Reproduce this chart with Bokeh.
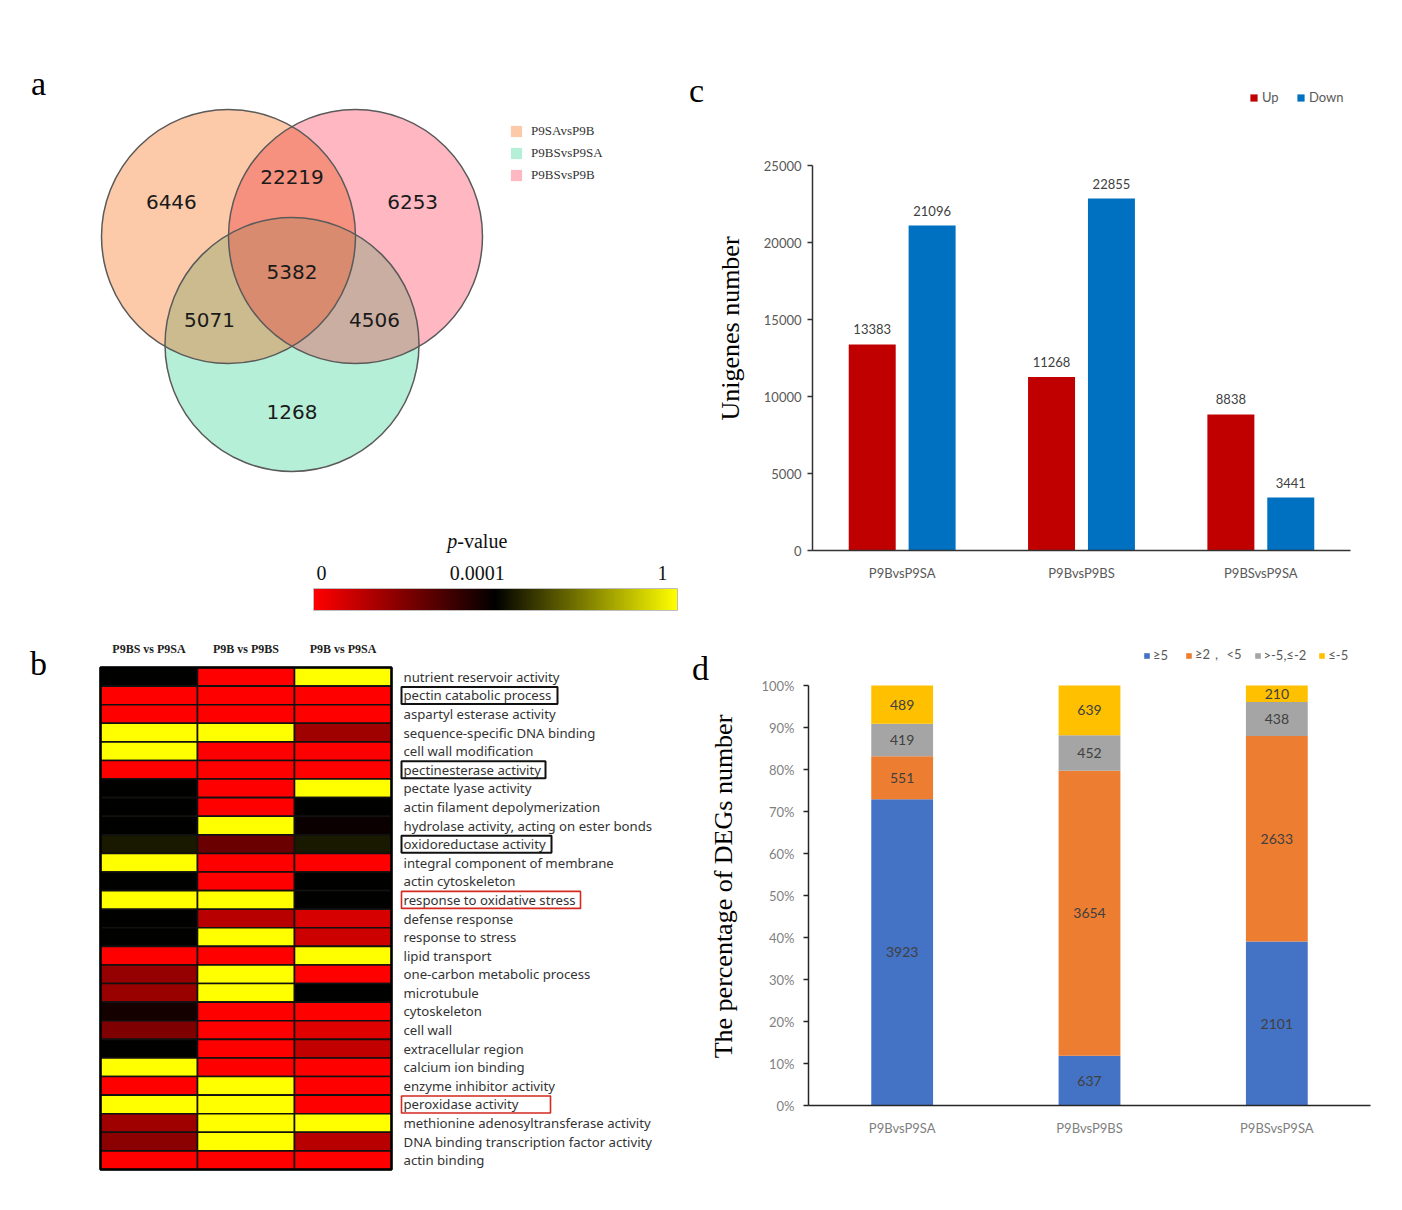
import numpy as np
from math import pi
from bokeh.plotting import figure
from bokeh.models import (Range1d, FactorRange, Label, Legend, LegendItem,
                          LinearColorMapper, ColumnDataSource, NumeralTickFormatter,
                          FixedTicker)
from bokeh.layouts import row, column
from bokeh.transform import dodge, transform
from bokeh.core.properties import value
from bokeh.embed import file_html
from bokeh.resources import INLINE

# ======================= DATA =======================
# (a) Venn diagram: membership (P9SAvsP9B, P9BSvsP9SA, P9BSvsP9B) -> count
venn_set_names = ["P9SAvsP9B", "P9BSvsP9SA", "P9BSvsP9B"]
venn_members = [(1, 0, 0), (0, 0, 1), (0, 1, 0), (1, 0, 1), (1, 1, 0), (0, 1, 1), (1, 1, 1)]
venn_counts = [6446, 6253, 1268, 22219, 5071, 4506, 5382]

# (b) GO heatmap; values are positions on the colour scale (0 = p 0, 0.5 = p 0.0001, 1 = p 1)
go_terms = [
    "nutrient reservoir activity",
    "pectin catabolic process",
    "aspartyl esterase activity",
    "sequence-specific DNA binding",
    "cell wall modification",
    "pectinesterase activity",
    "pectate lyase activity",
    "actin filament depolymerization",
    "hydrolase activity, acting on ester bonds",
    "oxidoreductase activity",
    "integral component of membrane",
    "actin cytoskeleton",
    "response to oxidative stress",
    "defense response",
    "response to stress",
    "lipid transport",
    "one-carbon metabolic process",
    "microtubule",
    "cytoskeleton",
    "cell wall",
    "extracellular region",
    "calcium ion binding",
    "enzyme inhibitor activity",
    "peroxidase activity",
    "methionine adenosyltransferase activity",
    "DNA binding transcription factor activity",
    "actin binding",
]
hm_columns = ["P9BS vs P9SA", "P9B vs P9BS", "P9B vs P9SA"]
hm_p9bs_p9sa = [0.50, 0, 0, 1, 1, 0, 0.50, 0.50, 0.50, 0.55, 1, 0.50, 1, 0.50, 0.50, 0,
                0.21, 0.20, 0.46, 0.25, 0.50, 1, 0, 1, 0.19, 0.23, 0]
hm_p9b_p9bs = [0, 0, 0, 1, 0, 0, 0, 0, 1, 0.29, 0, 0, 1, 0.14, 1, 0,
               1, 1, 0, 0, 0, 0, 1, 1, 1, 1, 0]
hm_p9b_p9sa = [1, 0, 0, 0.19, 0, 0, 1, 0.50, 0.48, 0.55, 0, 0.50, 0.50, 0.08, 0.10, 1,
               0, 0.50, 0, 0.06, 0.12, 0, 0, 0, 1, 0.14, 0]
hm_boxed_terms = ["pectin catabolic process", "pectinesterase activity", "oxidoreductase activity",
                  "response to oxidative stress", "peroxidase activity"]
cbar_tick_labels = ["0", "0.0001", "1"]
cbar_tick_pos = [0.0, 0.45, 1.0]

# (c) DEG counts
c_groups = ["P9BvsP9SA", "P9BvsP9BS", "P9BSvsP9SA"]
c_up = [13383, 11268, 8838]
c_down = [21096, 22855, 3441]
c_yticks = [0, 5000, 10000, 15000, 20000, 25000]

# (d) DEG fold-change classes
d_groups = ["P9BvsP9SA", "P9BvsP9BS", "P9BSvsP9SA"]
d_classes = ["\u22655", "\u22652\uff0c <5", ">-5,\u2264-2", "\u2264-5"]
d_ge5 = [3923, 637, 2101]
d_2to5 = [551, 3654, 2633]
d_m5to_m2 = [419, 452, 438]
d_le_m5 = [489, 639, 210]

# ======================= STYLE / LAYOUT =======================
SERIF = "Liberation Serif"
SANS = "Lato"
venn_region_color = {(1, 0, 0): "#fccaa8", (0, 1, 0): "#b6efd7", (0, 0, 1): "#ffb8c2",
                     (1, 0, 1): "#f7917f", (1, 1, 0): "#cbbb8f", (0, 1, 1): "#cbaea2",
                     (1, 1, 1): "#d98b70"}
box_colors = ["#111111", "#111111", "#111111", "#d42a20", "#d42a20"]
box_widths_px = [156, 144, 150, 179, 149]
c_colors = ["#c00000", "#0070c0"]
d_colors = ["#4472c4", "#ed7d31", "#a5a5a5", "#ffc000"]

W_L = 688                 # left column width
W_S, W_R = 70, 640        # right column: strip with letter/axis title + chart
H_A, H_CB, H_B = 523, 100, 575
H_C, H_D = 623, 575


def rbk_palette(n=256):
    cols = []
    for i in range(n):
        t = i / (n - 1)
        if t <= 0.5:
            r = int(round(255 * (1 - 2 * t))); g = 0
        else:
            r = g = int(round(255 * (2 * t - 1)))
        cols.append("#%02x%02x%02x" % (r, g, 0))
    return cols


mapper = LinearColorMapper(palette=rbk_palette(), low=0, high=1)


def blank_fig(w, h, xr, yr, top=0, bottom=0):
    p = figure(width=w, height=h, x_range=xr, y_range=yr, output_backend="svg",
               toolbar_location=None, x_axis_location=None, y_axis_location=None,
               min_border_left=0, min_border_right=0, min_border_top=top, min_border_bottom=bottom)
    p.outline_line_color = None
    p.grid.visible = False
    return p


def panel_letter(p, txt, x, y):
    p.text(x=[x], y=[y], text=[txt], text_font=value(SERIF), text_font_size="34px",
           text_color="black", text_align="center", text_baseline="middle")


# ======================= (a) VENN =======================
VS = 127.0                 # px per unit radius
ox, oy = 291.5, 236.0      # origin position in figure px (from top-left)
pa = blank_fig(W_L, H_A, Range1d(-ox / VS, (W_L - ox) / VS), Range1d(-(H_A - oy) / VS, oy / VS))
R = 1.0
venn_centers = [(-0.5, 0.0), (0.0, -0.85), (0.5, 0.0)]   # orange, green, pink


def inter_poly(idx):
    th = np.linspace(0, 2 * np.pi, 1441)[:-1]
    pts = []
    for i in idx:
        cx, cy = venn_centers[i]
        px, py = cx + R * np.cos(th), cy + R * np.sin(th)
        ok = np.ones(px.shape, bool)
        for j in idx:
            if j != i:
                ok &= (px - venn_centers[j][0]) ** 2 + (py - venn_centers[j][1]) ** 2 <= R * R + 1e-9
        pts.append(np.c_[px[ok], py[ok]])
    P = np.vstack(pts)
    c = P.mean(axis=0)
    order = np.argsort(np.arctan2(P[:, 1] - c[1], P[:, 0] - c[0]))
    return list(P[order, 0]), list(P[order, 1])


circle_renderers = []
for combo in [[0], [1], [2], [0, 2], [0, 1], [1, 2], [0, 1, 2]]:
    mem = tuple(1 if k in combo else 0 for k in range(3))
    xs, ys = inter_poly(combo)
    r = pa.patch(xs, ys, fill_color=venn_region_color[mem], line_color=None)
    if len(combo) == 1:
        circle_renderers.append(r)
pa.circle(x=[c[0] for c in venn_centers], y=[c[1] for c in venn_centers], radius=R,
          fill_color=None, line_color="#5a5a5a", line_width=1.5)

# label positions: pole of inaccessibility of every region
gx, gy = np.meshgrid(np.linspace(-1.6, 1.6, 641), np.linspace(-1.95, 1.05, 601))
dists = [np.hypot(gx - cx, gy - cy) for cx, cy in venn_centers]
lab_x, lab_y = [], []
for mem in venn_members:
    margin = np.full(gx.shape, np.inf)
    for k in range(3):
        margin = np.minimum(margin, (R - dists[k]) if mem[k] else (dists[k] - R))
    i = np.argmax(margin)
    lab_x.append(float(gx.flat[i])); lab_y.append(float(gy.flat[i]))
pa.text(x=lab_x, y=lab_y, text=[str(v) for v in venn_counts], text_font=value("DejaVu Sans"),
        text_font_size="20px", text_color="#1a1a1a", text_align="center", text_baseline="middle")

leg_a = Legend(items=[LegendItem(label=n, renderers=[r]) for n, r in zip(venn_set_names, circle_renderers)],
               location=(509, 340), glyph_width=14, glyph_height=14, label_height=14,
               label_standoff=8, spacing=6, padding=0, margin=0, border_line_color=None,
               background_fill_alpha=0, label_text_font=SERIF, label_text_font_size="13px",
               label_text_color="#333333")
pa.add_layout(leg_a)
pa.add_layout(Label(x=38, y=H_A - 83, x_units="screen", y_units="screen", text="a",
                    text_font=SERIF, text_font_size="34px", text_color="black",
                    text_align="center", text_baseline="middle"))

# ======================= colour bar =======================
CB_L, CB_T, CB_W, CB_H = 313, 65, 364.0, 22.0
cb_bottom = -(H_CB - CB_T - CB_H) / CB_H
pcb = blank_fig(W_L, H_CB, Range1d(-CB_L / CB_W, (W_L - CB_L) / CB_W),
                Range1d(cb_bottom, cb_bottom + H_CB / CB_H))
pcb.image(image=[np.linspace(0, 1, 256).reshape(1, -1)], x=0, y=0, dw=1, dh=1, color_mapper=mapper)
pcb.quad(left=0, right=1, bottom=0, top=1, fill_color=None, line_color="#bdbdbd", line_width=1)
for lab, pos, al, xo in zip(cbar_tick_labels, cbar_tick_pos, ["left", "center", "right"], [3, 0, -10]):
    pcb.text(x=[pos], y=[1], text=[lab], x_offset=xo, y_offset=-9, text_font=value(SERIF),
             text_font_size="20px", text_color="#111111", text_align=al, text_baseline="bottom")
pcb.text(x=[cbar_tick_pos[1]], y=[1], text=["p"], x_offset=-20, y_offset=-48, text_font=value(SERIF),
         text_font_style="italic", text_font_size="20px", text_color="#111111",
         text_align="right", text_baseline="alphabetic")
pcb.text(x=[cbar_tick_pos[1]], y=[1], text=["-value"], x_offset=-20, y_offset=-48, text_font=value(SERIF),
         text_font_size="20px", text_color="#111111", text_align="left", text_baseline="alphabetic")

# ======================= (b) HEATMAP =======================
COL_PX = 97.0
ROW_PX = 502.0 / 27
HM_LEFT, HM_TOP = 100, 44
ncol, nrow = len(hm_columns), len(go_terms)
y_top = -0.5 - HM_TOP / ROW_PX
pb = blank_fig(W_L, H_B, Range1d(-0.5 - HM_LEFT / COL_PX, -0.5 + (W_L - HM_LEFT) / COL_PX),
               Range1d(y_top + H_B / ROW_PX, y_top))
hx, hy, ht = [], [], []
for ci, vals in enumerate([hm_p9bs_p9sa, hm_p9b_p9bs, hm_p9b_p9sa]):
    for ri, v in enumerate(vals):
        hx.append(ci); hy.append(ri); ht.append(v)
pb.rect(x="x", y="y", width=1, height=1, source=ColumnDataSource(dict(x=hx, y=hy, t=ht)),
        fill_color=transform("t", mapper), line_color="#111111", line_width=1.6)
pb.rect(x=[(ncol - 1) / 2], y=[(nrow - 1) / 2], width=ncol, height=nrow, fill_color=None,
        line_color="black", line_width=2.5)
pb.text(x=list(range(ncol)), y=[-0.5] * ncol, y_offset=-19, text=hm_columns, text_font=value(SERIF),
        text_font_style="bold", text_font_size="12px", text_color="#222222",
        text_align="center", text_baseline="middle")
pb.text(x=[ncol - 0.5] * nrow, y=list(range(nrow)), x_offset=12, text=go_terms,
        text_font=value("Noto Sans"), text_font_size="13.2px", text_color="#333333",
        text_align="left", text_baseline="middle")
for term, col, wpx in zip(hm_boxed_terms, box_colors, box_widths_px):
    ri = go_terms.index(term)
    pb.rect(x=[ncol - 0.5 + (10 + wpx / 2) / COL_PX], y=[ri], width=wpx / COL_PX, height=17 / ROW_PX,
            fill_color=None, line_color=col, line_width=2 if col == "#111111" else 1.6)
pb.add_layout(Label(x=38, y=H_B - 40, x_units="screen", y_units="screen", text="b",
                    text_font=SERIF, text_font_size="34px", text_color="black",
                    text_align="center", text_baseline="middle"))

# ======================= (c) BAR CHART =======================
C_TOP, C_BOT = 80, 73                      # frame borders (px)
c_frame_h = H_C - C_TOP - C_BOT
c_axis_px = 550 - 165                      # pixel length of the 0..25000 axis
pc = figure(width=W_R, height=H_C, x_range=FactorRange(*c_groups),
            y_range=Range1d(0, c_yticks[-1] * c_frame_h / c_axis_px),
            output_backend="svg", toolbar_location=None, min_border_left=54, min_border_right=48,
            min_border_top=C_TOP, min_border_bottom=C_BOT)
pc.outline_line_color = None
pc.grid.visible = False
src_c = ColumnDataSource(dict(g=c_groups, up=c_up, down=c_down,
                              up_t=[str(v) for v in c_up], down_t=[str(v) for v in c_down]))
r_up = pc.vbar(x=dodge("g", -0.167, range=pc.x_range), top="up", width=0.262, source=src_c,
               fill_color=c_colors[0], line_color=None)
r_dn = pc.vbar(x=dodge("g", 0.167, range=pc.x_range), top="down", width=0.262, source=src_c,
               fill_color=c_colors[1], line_color=None)
for key, off in [("up", -0.167), ("down", 0.167)]:
    pc.text(x=dodge("g", off, range=pc.x_range), y=key, text=key + "_t", source=src_c, y_offset=-10,
            text_font=value(SANS), text_font_size="13px", text_color="#404040",
            text_align="center", text_baseline="bottom")
pc.yaxis.ticker = FixedTicker(ticks=c_yticks)
pc.yaxis.bounds = (c_yticks[0], c_yticks[-1])
for ax in [pc.xaxis[0], pc.yaxis[0]]:
    ax.axis_line_color = "#333333"
    ax.axis_line_width = 1.5
    ax.major_label_text_font = SANS
    ax.major_label_text_font_size = "13px"
    ax.major_label_text_color = "#595959"
    ax.minor_tick_line_color = None
pc.yaxis.major_tick_out = 5
pc.yaxis.major_tick_in = 0
pc.yaxis.major_tick_line_color = "#333333"
pc.yaxis.major_tick_line_width = 1.5
pc.yaxis.major_label_standoff = 6
pc.xaxis.major_tick_line_color = None
pc.xaxis.major_label_standoff = 8
pc.add_layout(Legend(items=[LegendItem(label="Up", renderers=[r_up]), LegendItem(label="Down", renderers=[r_dn])],
                     location=(437, 445), orientation="horizontal", glyph_width=9, glyph_height=9,
                     label_height=14, label_standoff=4, spacing=14, padding=0, margin=0,
                     border_line_color=None, background_fill_alpha=0, label_text_font=SANS,
                     label_text_font_size="13px", label_text_color="#595959"))

# strip beside (c): its frame is aligned with the chart frame, so use page-y coordinates of that frame
sc = blank_fig(W_S, H_C, Range1d(0, W_S), Range1d(H_C - C_BOT, C_TOP), top=C_TOP, bottom=C_BOT)
panel_letter(sc, "c", 8, 90)
sc.text(x=[42], y=[328], text=["Unigenes number"], angle=pi / 2, text_font=value(SERIF),
        text_font_size="26px", text_color="black", text_align="center", text_baseline="middle")

# ======================= (d) STACKED PERCENT BARS =======================
cols_d = [d_ge5, d_2to5, d_m5to_m2, d_le_m5]
tot = np.sum(np.array(cols_d, dtype=float), axis=0)
fr = [list(np.array(c, dtype=float) / tot) for c in cols_d]
src_d = ColumnDataSource(dict(g=d_groups, f0=fr[0], f1=fr[1], f2=fr[2], f3=fr[3]))
D_TOP, D_BOT = 17, 93
d_frame_h = H_D - D_TOP - D_BOT
d_axis_px = 1105 - 685
pd_ = figure(width=W_R, height=H_D, x_range=FactorRange(*d_groups),
             y_range=Range1d(0, d_frame_h / d_axis_px),
             output_backend="svg", toolbar_location=None, min_border_left=50, min_border_right=28,
             min_border_top=D_TOP, min_border_bottom=D_BOT)
pd_.outline_line_color = None
pd_.grid.visible = False
rs = pd_.vbar_stack(["f0", "f1", "f2", "f3"], x="g", width=0.33, color=d_colors, source=src_d,
                    line_color=None)
cum = np.zeros(len(d_groups))
lx, ly, lt = [], [], []
for c, f in zip(cols_d, fr):
    f = np.array(f)
    for gi, g in enumerate(d_groups):
        lx.append(g); ly.append(float(cum[gi] + f[gi] / 2)); lt.append(str(c[gi]))
    cum = cum + f
pd_.text(x="x", y="y", text="t", source=ColumnDataSource(dict(x=lx, y=ly, t=lt)),
         text_font=value(SANS), text_font_size="14px", text_color="#404040",
         text_align="center", text_baseline="middle")
pd_.yaxis.ticker = FixedTicker(ticks=[i / 10 for i in range(11)])
pd_.yaxis.bounds = (0, 1)
pd_.yaxis.formatter = NumeralTickFormatter(format="0%")
for ax in [pd_.xaxis[0], pd_.yaxis[0]]:
    ax.axis_line_color = "#262626"
    ax.axis_line_width = 1.5
    ax.major_label_text_font = SANS
    ax.major_label_text_font_size = "13px"
    ax.major_label_text_color = "#7f7f7f"
    ax.minor_tick_line_color = None
pd_.yaxis.major_tick_out = 5
pd_.yaxis.major_tick_in = 0
pd_.yaxis.major_tick_line_color = "#262626"
pd_.yaxis.major_tick_line_width = 1.5
pd_.yaxis.major_label_standoff = 9
pd_.xaxis.major_tick_line_color = None
pd_.xaxis.major_label_standoff = 8
pd_.add_layout(Legend(items=[LegendItem(label=n, renderers=[r]) for n, r in zip(d_classes, rs)],
                      location=(335, 441), orientation="horizontal", glyph_width=7, glyph_height=7,
                      label_height=14, label_standoff=3, spacing=12, padding=0, margin=0,
                      border_line_color=None, background_fill_alpha=0, label_text_font=SANS,
                      label_text_font_size="13px", label_text_color="#595959"))

# strip beside (d), frame aligned with the chart frame (local y measured from the strip top)
sd = blank_fig(W_S, H_D, Range1d(0, W_S), Range1d(H_D - D_BOT, D_TOP), top=D_TOP, bottom=D_BOT)
panel_letter(sd, "d", 12, 45)
sd.text(x=[35], y=[263], text=["The percentage of DEGs number"], angle=pi / 2, text_font=value(SERIF),
        text_font_size="26px", text_color="black", text_align="center", text_baseline="middle")

layout = row(column(pa, pcb, pb), column(row(sc, pc), row(sd, pd_)))
open("out.html", "w").write(file_html(layout, INLINE))
